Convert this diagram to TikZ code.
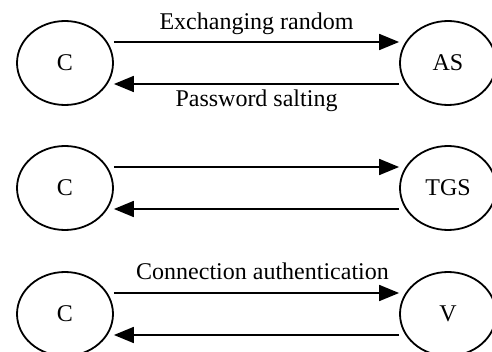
\documentclass[tikz,border=0pt]{standalone}
\usepackage{fontspec}
\setmainfont{Liberation Serif}
\usetikzlibrary{arrows.meta, automata, shapes.geometric}

\begin{document}
\begin{tikzpicture}[
      x = 0.5pt, y = -0.5pt, % one unit per pixel, y down
      > = {Triangle[length=10pt, width=8pt]}, % arrow head style
      line width = 0.9pt, % line style
      font = \fontsize{12}{14}\selectfont,
    ]

    \tikzstyle{every state}=[
      draw = black,
      ellipse,
      fill = white,
      inner sep = 0pt,
      minimum width = 48pt,
      minimum height = 42pt
    ]
    \tikzstyle{msg}=[inner sep = 0pt]

    \useasboundingbox (0,0) rectangle (492,352);

    \node[state] (c1) [at={(65, 63)}] {C};
    \node[state] (as) [at={(448, 63)}] {AS};
    \node[state] (c2) [at={(65, 188)}] {C};
    \node[state] (tgs) [at={(448, 188)}] {TGS};
    \node[state] (c3) [at={(65, 314)}] {C};
    \node[state] (v) [at={(448, 314)}] {V};

    \path[->] ([yshift=10.5pt]c1.east) edge node[msg, above=3pt] {Exchanging random} ([yshift=10.5pt]as.west);
    \path[->] ([yshift=-10.5pt]as.west) edge node[msg, below=2.5pt] {Password salting} ([yshift=-10.5pt]c1.east);
    \path[->] ([yshift=10.5pt]c2.east) edge ([yshift=10.5pt]tgs.west);
    \path[->] ([yshift=-10.5pt]tgs.west) edge ([yshift=-10.5pt]c2.east);
    \path[->] ([yshift=10.5pt]c3.east) edge node[msg, above=6pt, xshift=3pt] {Connection authentication} ([yshift=10.5pt]v.west);
    \path[->] ([yshift=-10.5pt]v.west) edge ([yshift=-10.5pt]c3.east);
  \end{tikzpicture}
\end{document}
